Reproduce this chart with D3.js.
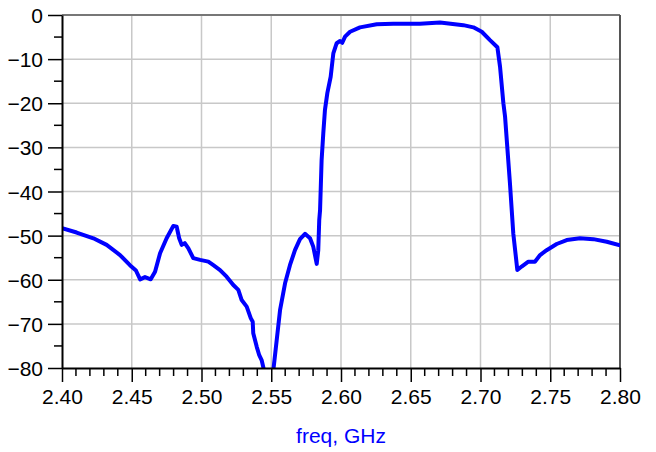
<!DOCTYPE html>
<html><head><meta charset="utf-8">
<script src="https://cdn.jsdelivr.net/npm/d3@7"></script>
<style>body{margin:0;background:#fff}svg{display:block}</style>
</head><body>
<svg id="c" width="656" height="452"></svg>
<script>
const freq = [2.400,2.4105,2.4225,2.432,2.4416,2.4487,2.453,2.456,2.4595,2.4636,2.4667,2.4703,2.475,2.4798,2.4822,2.484,2.4858,2.488,2.4906,2.4941,2.499,2.5049,2.5085,2.5133,2.518,2.5228,2.5264,2.5288,2.5324,2.5353,2.5367,2.5371,2.5396,2.5414,2.5431,2.5448,2.547,2.550,2.5515,2.5539,2.5563,2.5599,2.5634,2.567,2.5706,2.5742,2.5778,2.5801,2.5826,2.5837,2.5844,2.585,2.5861,2.5873,2.5885,2.5902,2.5926,2.5945,2.5969,2.5993,2.6009,2.6029,2.6065,2.6136,2.6256,2.6375,2.6566,2.671,2.6877,2.6949,2.7009,2.7068,2.7121,2.714,2.7164,2.7176,2.7211,2.7235,2.7264,2.7295,2.7343,2.739,2.7427,2.7474,2.7546,2.7618,2.7713,2.7809,2.7905,2.800];
const s21 = [-48.3,-49.3,-50.6,-52.1,-54.4,-56.7,-57.9,-59.9,-59.4,-59.9,-58.2,-54.0,-50.6,-47.8,-48.0,-50.6,-52.1,-51.7,-52.9,-55.1,-55.5,-55.9,-56.7,-57.8,-59.3,-61.2,-62.3,-64.6,-66.1,-68.7,-69.5,-72.1,-75.2,-77.1,-78.2,-80.5,-84,-84,-80.5,-73.7,-66.9,-60.8,-56.7,-53.3,-50.8,-49.6,-50.6,-52.5,-56.4,-53.3,-46.5,-44.2,-32.9,-26.8,-21.5,-17.7,-14.0,-8.7,-6.4,-5.9,-6.3,-4.9,-3.8,-2.8,-2.1,-2.0,-2.0,-1.7,-2.3,-2.8,-3.8,-5.7,-7.3,-11.7,-20.0,-23.0,-38.1,-49.5,-57.8,-57.0,-55.9,-55.9,-54.4,-53.3,-51.9,-51.0,-50.6,-50.8,-51.4,-52.2];
const xTicks = [2.40,2.45,2.50,2.55,2.60,2.65,2.70,2.75,2.80];
const yTicks = [0,-10,-20,-30,-40,-50,-60,-70,-80];
const xLabel = "freq, GHz";

const L=62,T=15,W=558,H=353;
const svg=d3.select("#c");
const x=d3.scaleLinear().domain([2.40,2.80]).range([L,L+W]);
const y=d3.scaleLinear().domain([-80,0]).range([T+H,T]);
const font="Liberation Sans, Arial, Helvetica, sans-serif";

// grid
svg.append("g").selectAll("line").data(xTicks.slice(1,-1)).join("line")
  .attr("x1",d=>x(d)).attr("x2",d=>x(d)).attr("y1",T).attr("y2",T+H)
  .attr("stroke","#c8c8c8").attr("stroke-width",1.5);
svg.append("g").selectAll("line").data(yTicks.slice(1,-1)).join("line")
  .attr("x1",L).attr("x2",L+W).attr("y1",d=>y(d)).attr("y2",d=>y(d))
  .attr("stroke","#c8c8c8").attr("stroke-width",1.5);

// border top/right
svg.append("line").attr("x1",L).attr("x2",L+W).attr("y1",T).attr("y2",T).attr("stroke","#777").attr("stroke-width",2);
svg.append("line").attr("x1",L+W).attr("x2",L+W).attr("y1",T).attr("y2",T+H).attr("stroke","#555").attr("stroke-width",2);

// curve
svg.append("clipPath").attr("id","clip").append("rect").attr("x",L).attr("y",T-3).attr("width",W).attr("height",H+3);
const line=d3.line().x((d,i)=>x(freq[i])).y(d=>y(d)).curve(d3.curveLinear);
svg.append("path").datum(s21).attr("d",line).attr("clip-path","url(#clip)")
  .attr("fill","none").attr("stroke","#0000ff").attr("stroke-width",4)
  .attr("stroke-linejoin","round").attr("stroke-linecap","round");

// axes
const xAxis=d3.axisBottom(x).tickValues(xTicks).tickFormat(d3.format(".2f")).tickSize(14).tickSizeOuter(0);
const gx=svg.append("g").attr("transform",`translate(0,${T+H})`).call(xAxis);
const minorX=d3.range(0,41).map(i=>2.40+i*0.01).filter((d,i)=>i%5!==0);
gx.selectAll(".minor").data(minorX).join("line").attr("class","minor")
  .attr("x1",d=>x(d)).attr("x2",d=>x(d)).attr("y1",0).attr("y2",8).attr("stroke","#000").attr("stroke-width",1.5);
gx.select(".domain").attr("stroke","#000").attr("stroke-width",2);
gx.selectAll(".tick line").attr("stroke","#000").attr("stroke-width",1.5);
gx.selectAll(".tick text").attr("font-family",font).attr("font-size",21).attr("fill","#000").attr("dy",0).attr("y",36);

const yAxis=d3.axisLeft(y).tickValues(yTicks).tickFormat(d3.format("d")).tickSize(14).tickSizeOuter(0);
const gy=svg.append("g").attr("transform",`translate(${L},0)`).call(yAxis);
const minorY=[-5,-15,-25,-35,-45,-55,-65,-75];
gy.selectAll(".minor").data(minorY).join("line").attr("class","minor")
  .attr("x1",0).attr("x2",-8).attr("y1",d=>y(d)).attr("y2",d=>y(d)).attr("stroke","#000").attr("stroke-width",1.5);
gy.select(".domain").attr("stroke","#000").attr("stroke-width",2);
gy.selectAll(".tick line").attr("stroke","#000").attr("stroke-width",1.5);
gy.selectAll(".tick text").attr("font-family",font).attr("font-size",21).attr("fill","#000").attr("x",-19).attr("dy","0.36em");

svg.append("text").attr("x",L+W/2).attr("y",443).attr("text-anchor","middle")
  .attr("font-family",font).attr("font-size",21).attr("fill","#0000ff").text(xLabel);
</script>
</body></html>
